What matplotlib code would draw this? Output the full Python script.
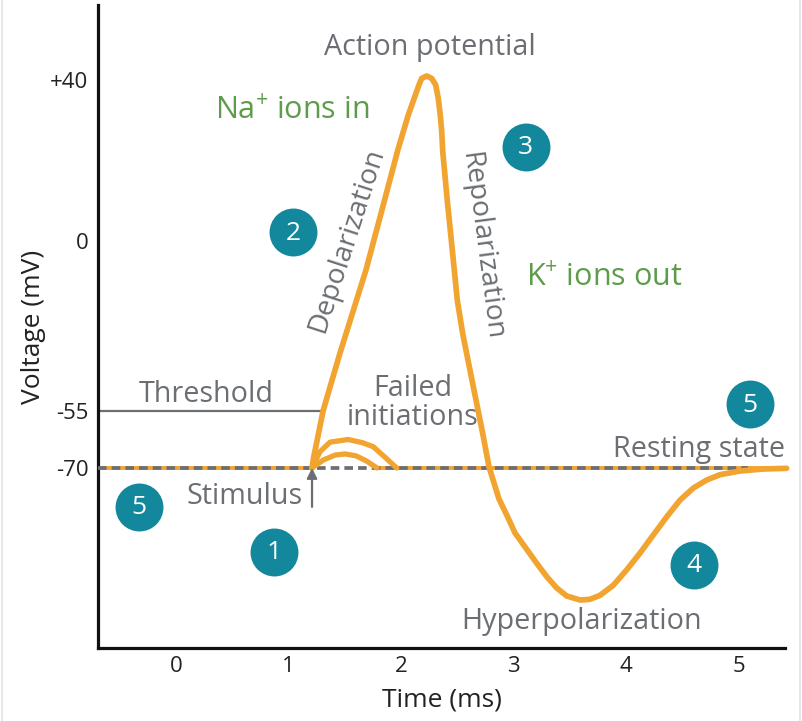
import numpy as np
import matplotlib
matplotlib.use("Agg")
import matplotlib.pyplot as plt
from matplotlib.lines import Line2D

# ---------------- data (time in ms, voltage in mV) ----------------
ap_time = [1.208, 1.221, 1.308, 1.456, 1.687, 1.829, 1.974, 2.019, 2.063, 2.116,
           2.158, 2.182, 2.226, 2.271, 2.306, 2.329, 2.347, 2.360, 2.369, 2.409,
           2.463, 2.498, 2.546, 2.605, 2.664, 2.724, 2.780, 2.868, 2.937, 3.011,
           3.203, 3.292, 3.381, 3.470, 3.588, 3.677, 3.766, 3.884, 4.003,
           4.121, 4.239, 4.358, 4.476, 4.594, 4.713, 4.831, 5.009, 5.216, 5.423]
ap_mv = [-70.0, -67.4, -54.7, -36.3, -9.4, 7.7, 23.0, 27.2, 31.3, 35.5,
         38.8, 40.4, 41.0, 40.4, 38.8, 35.5, 31.3, 27.2, 22.2, 10.2,
         -6.2, -19.1, -29.9, -40.7, -51.4, -60.9, -69.7, -74.6, -77.0, -79.7,
         -84.2, -86.2, -87.9, -89.1, -89.7, -89.6, -89.0, -87.5, -85.2,
         -82.7, -80.0, -77.3, -74.8, -73.0, -71.8, -71.0, -70.45, -70.15, -70.05]

failed_big_time = [1.208, 1.279, 1.368, 1.528, 1.652, 1.752, 1.865, 1.960]
failed_big_mv = [-70.0, -65.7, -63.2, -62.5, -63.3, -64.4, -67.4, -70.0]

failed_small_time = [1.208, 1.308, 1.412, 1.501, 1.599, 1.694, 1.785]
failed_small_mv = [-70.0, -67.9, -66.6, -66.3, -66.8, -68.2, -70.0]

rest_mv = -70
threshold_mv = -55
stimulus_time = 1.208
stimulus_base_mv = -75.8
threshold_end_time = 1.308
rest_dash_end_time = 5.08
baseline_segments = [(-0.693, 1.208), (1.785, 5.42)]

x_ticks = [0, 1, 2, 3, 4, 5]
x_tick_labels = ["0", "1", "2", "3", "4", "5"]
y_ticks = [-70, -55, 0, 40]
y_tick_labels = ["-70", "-55", "0", "+40"]

# nonlinear (schematic) voltage axis: piecewise-linear mapping
V_anchor = np.array([-300.0, -70.0, -55.0, 0.0, 40.0, 300.0])
H_anchor = np.array([180 - 230 * 6.7, 180.0, 237.0, 407.0, 568.0, 568 + 260 * 4.025])

def fwd(v):
    return np.interp(v, V_anchor, H_anchor)

def inv(h):
    return np.interp(h, H_anchor, V_anchor)

# ---------------- style ----------------
ORANGE = "#F2A431"
GREY = "#6B6E73"
GREEN = "#5E9C4C"
TEAL = "#13879C"
DARK = "#222222"

plt.rcParams["font.family"] = ["Open Sans", "DejaVu Sans"]
plt.rcParams["mathtext.fontset"] = "custom"
plt.rcParams["mathtext.rm"] = "Open Sans"
plt.rcParams["mathtext.it"] = "Open Sans"

fig = plt.figure(figsize=(8.02, 7.21), dpi=100)
ax = fig.add_axes([98 / 802, 1 - 648 / 721, 687 / 802, 643 / 721])
ax.set_yscale("function", functions=(fwd, inv))
ax.set_xlim(-0.693, 5.409)
ax.set_ylim(inv(0), inv(643))

for s in ["top", "right"]:
    ax.spines[s].set_visible(False)
for s in ["left", "bottom"]:
    ax.spines[s].set_linewidth(2.3)
    ax.spines[s].set_color("#111111")

ax.set_xticks(x_ticks)
ax.set_xticklabels(x_tick_labels)
ax.set_yticks(y_ticks)
ax.set_yticklabels(y_tick_labels)
ax.yaxis.set_minor_locator(matplotlib.ticker.NullLocator())
ax.tick_params(axis="both", length=0, labelsize=16, colors=DARK)
ax.tick_params(axis="x", pad=6)
ax.tick_params(axis="y", pad=7)
ax.set_xlabel("Time (ms)", fontsize=19, color=DARK, labelpad=7)
ax.set_ylabel("Voltage (mV)", fontsize=19, color=DARK, labelpad=3)

# baseline (orange) segments
for a, b in baseline_segments:
    ax.plot([a, b], [rest_mv, rest_mv], color=ORANGE, lw=2.8,
            solid_capstyle="butt", zorder=2, clip_on=False)
# resting dashed line
ax.plot([-0.693, rest_dash_end_time], [rest_mv, rest_mv], color=GREY, lw=2.7,
        dashes=(2.3, 1.35), dash_capstyle="butt", zorder=3, clip_on=False)
# threshold line
ax.plot([-0.693, threshold_end_time], [threshold_mv, threshold_mv], color=GREY,
        lw=1.6, zorder=2)

# failed initiations
ax.plot(failed_big_time, failed_big_mv, color=ORANGE, lw=3.8,
        solid_joinstyle="round", solid_capstyle="round", zorder=4)
ax.plot(failed_small_time, failed_small_mv, color=ORANGE, lw=3.8,
        solid_joinstyle="round", solid_capstyle="round", zorder=4)
# action potential
ax.plot(ap_time, ap_mv, color=ORANGE, lw=4.1, solid_joinstyle="round",
        solid_capstyle="round", zorder=5, clip_on=False)

# stimulus arrow
ax.annotate("", xy=(stimulus_time, rest_mv), xytext=(stimulus_time, stimulus_base_mv),
            arrowprops=dict(arrowstyle="-|>", color=GREY, lw=1.6,
                            mutation_scale=15, shrinkA=0, shrinkB=0), zorder=6)

# ---------------- annotations (positions in axes fraction) ----------------
def P(x, y):
    return ((x - 98) / 687, (648 - y) / 643)

def label(x, y, s, color=GREY, size=20.7, ha="center", va="center", rot=0, **kw):
    ax.text(*P(x, y), s, transform=ax.transAxes, color=color, fontsize=size,
            ha=ha, va=va, rotation=rot, rotation_mode="anchor",
            fontweight="medium", **kw)

label(430, 47, "Action potential")
label(292, 111, r"Na$^{+}$ ions in", color=GREEN, size=22)
label(604, 278, r"K$^{+}$ ions out", color=GREEN, size=22)
label(347, 240, "Depolarization", rot=72, size=20.3)
label(481, 246, "Repolarization", rot=-82.5, size=20.3)
label(206, 394, "Threshold")
label(413, 403, "Failed\ninitiations", linespacing=1.0)
label(699, 449, "Resting state")
label(303, 497, "Stimulus", ha="right")
label(582, 622, "Hyperpolarization")

circles = [(139.3, 506.7, "5"), (274.3, 551.7, "1"), (293.3, 232.3, "2"),
           (525.7, 146.7, "3"), (694.3, 565.0, "4"), (750.0, 404.3, "5")]
for cx, cy, n in circles:
    ax.plot(*P(cx, cy), "o", transform=ax.transAxes, ms=34.5, color=TEAL,
            mec="none", zorder=7, clip_on=False)
    ax.text(*P(cx, cy + 1), n, transform=ax.transAxes, color="white",
            fontsize=19, ha="center", va="center", zorder=8, fontweight="medium")

# faint image frame
fig.add_artist(Line2D([2 / 802, 2 / 802], [0, 1], color="#E3E3E3", lw=1.2))
fig.add_artist(Line2D([800 / 802, 800 / 802], [0, 1], color="#E3E3E3", lw=1.2))

fig.savefig("out.png", dpi=100)
